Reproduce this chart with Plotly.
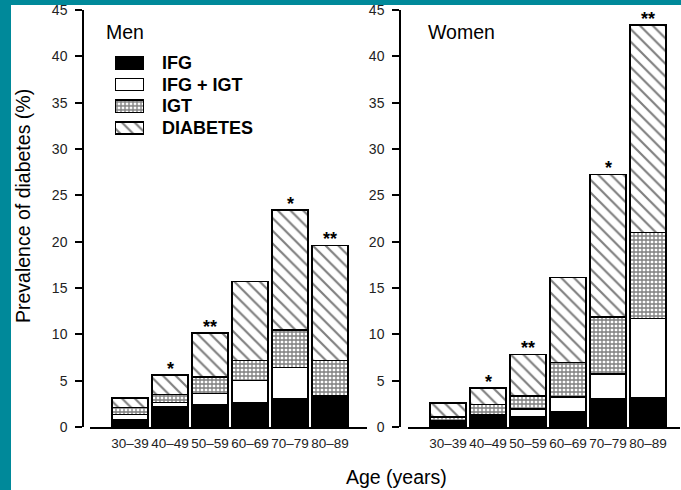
import plotly.graph_objects as go

W, H = 681, 490
FONT = "Liberation Sans, Arial, sans-serif"
TEAL = "#00899a"

ages = ["30\u201339", "40\u201349", "50\u201359", "60\u201369", "70\u201379", "80\u201389"]
series = ["IFG", "IFG + IGT", "IGT", "DIABETES"]

# segment heights (%)
men_ifg = [0.8, 2.15, 2.4, 2.6, 3.1, 3.35]
men_ifg_igt = [0.55, 0.5, 1.2, 2.4, 3.3, 0.0]
men_igt = [0.75, 0.85, 1.8, 2.15, 4.05, 3.85]
men_diab = [1.05, 2.1, 4.75, 8.55, 12.95, 12.4]

women_ifg = [0.6, 1.1, 1.1, 1.7, 3.0, 3.2]
women_ifg_igt = [0.1, 0.2, 0.85, 1.55, 2.7, 8.5]
women_igt = [0.4, 1.15, 1.4, 3.7, 6.15, 9.3]
women_diab = [1.5, 1.75, 4.5, 9.2, 15.4, 22.4]

men_sig = ["", "*", "**", "", "*", "**"]
women_sig = ["", "*", "**", "", "*", "**"]

y_ticks = [0, 5, 10, 15, 20, 25, 30, 35, 40, 45]

styles = [
    dict(color="black", pattern=None),
    dict(color="white", pattern=None),
    dict(color="white", pattern=dict(shape="+", size=4, solidity=0.55, fgcolor="black", bgcolor="white", fillmode="overlay")),
    dict(color="white", pattern=dict(shape="\\", size=9, solidity=0.24, fgcolor="black", bgcolor="white", fillmode="overlay")),
]

def px(x):
    return x / W

def py(y):
    return 1 - y / H

fig = go.Figure()
x_idx = list(range(len(ages)))

for vals_list, xa, ya in [
    ([men_ifg, men_ifg_igt, men_igt, men_diab], "x", "y"),
    ([women_ifg, women_ifg_igt, women_igt, women_diab], "x2", "y2"),
]:
    for name, vals, st in zip(series, vals_list, styles):
        marker = dict(color=st["color"], line=dict(color="black", width=1.5))
        if st["pattern"]:
            marker["pattern"] = st["pattern"]
        fig.add_trace(go.Bar(x=x_idx, y=vals, name=name, marker=marker,
                             xaxis=xa, yaxis=ya, showlegend=False, hoverinfo="skip"))

# custom legend swatches
for i, (name, st) in enumerate(zip(series, styles)):
    marker = dict(color=st["color"], line=dict(color="black", width=1.5))
    if st["pattern"]:
        marker["pattern"] = st["pattern"]
    fig.add_trace(go.Bar(x=[1], y=[i], orientation="h", width=0.57, marker=marker,
                         xaxis="x3", yaxis="y3", showlegend=False, hoverinfo="skip"))
    fig.add_annotation(x=px(160), y=i, xref="paper", yref="y3", text=f"<b>{name}</b>",
                       showarrow=False, xanchor="left", yanchor="middle",
                       font=dict(family=FONT, size=18, color="black"))

# significance stars
for vals_list, sig, xr, yr in [
    ([men_ifg, men_ifg_igt, men_igt, men_diab], men_sig, "x", "y"),
    ([women_ifg, women_ifg_igt, women_igt, women_diab], women_sig, "x2", "y2"),
]:
    totals = [sum(v[i] for v in vals_list) for i in range(len(ages))]
    for i, s in enumerate(sig):
        if s:
            fig.add_annotation(x=i, y=totals[i], xref=xr, yref=yr, text=f"<b>{s}</b>",
                               showarrow=False, yanchor="bottom", yshift=-6,
                               font=dict(family=FONT, size=18, color="black"))

axis_common = dict(showgrid=False, zeroline=False, automargin=False)
yax = dict(axis_common, range=[0, 45], tickvals=y_ticks, ticks="outside", ticklen=7,
           tickwidth=1.5, tickcolor="black", showline=True, linecolor="black", linewidth=1.5,
           domain=[py(427), py(10)], anchor="free", ticklabelstandoff=5,
           tickfont=dict(family=FONT, size=14, color="#222"))
xax = dict(axis_common, tickvals=x_idx, ticktext=ages, ticks="", showline=True,
           linecolor="black", linewidth=1.8, ticklabelstandoff=3,
           tickfont=dict(family=FONT, size=13.5, color="#222"))

fig.update_layout(
    width=W, height=H, margin=dict(l=0, r=0, t=0, b=0, pad=0, autoexpand=False),
    paper_bgcolor=TEAL, plot_bgcolor="white",
    barmode="stack", bargap=0.1, showlegend=False,
    font=dict(family=FONT, color="black"),
    xaxis=dict(xax, domain=[px(90), px(367)], range=[-1, 5.925], anchor="y"),
    yaxis=dict(yax, position=px(83)),
    xaxis2=dict(xax, domain=[px(408), px(680)], range=[-1, 5.8], anchor="y2"),
    yaxis2=dict(yax, position=px(400)),
    xaxis3=dict(domain=[px(115), px(144)], range=[0, 1], visible=False, anchor="y3",
                fixedrange=True, automargin=False),
    yaxis3=dict(domain=[py(138.9), py(51.9)], range=[3.5, -0.5], visible=False, anchor="x3",
                fixedrange=True, automargin=False),
    shapes=[dict(type="rect", xref="paper", yref="paper", x0=px(11), x1=1.01, y0=-0.01, y1=py(5),
                 fillcolor="white", line=dict(width=0), layer="below")],
)

fig.add_annotation(x=px(104), y=py(32), xref="paper", yref="paper", text="Men", showarrow=False,
                   xanchor="left", yanchor="middle", font=dict(family=FONT, size=19.5, color="black"))
fig.add_annotation(x=px(426), y=py(32), xref="paper", yref="paper", text="Women", showarrow=False,
                   xanchor="left", yanchor="middle", font=dict(family=FONT, size=19.5, color="black"))
fig.add_annotation(x=px(396), y=py(477), xref="paper", yref="paper", text="Age (years)", showarrow=False,
                   xanchor="center", yanchor="middle", font=dict(family=FONT, size=19.5, color="black"))
fig.add_annotation(x=px(23), y=py(206), xref="paper", yref="paper", text="Prevalence of diabetes (%)",
                   showarrow=False, textangle=-90, xanchor="center", yanchor="middle",
                   font=dict(family=FONT, size=19.5, color="black"))

fig.write_html("out.html")
